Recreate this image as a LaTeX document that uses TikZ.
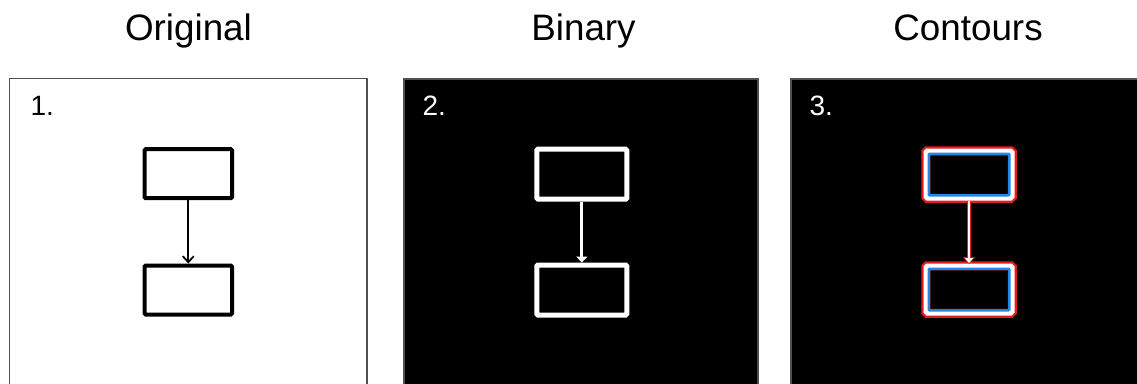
\documentclass[tikz,border=0pt]{standalone}
\usepackage{fontspec}
\setmainfont{Liberation Sans}
\usetikzlibrary{arrows.meta,calc}
\definecolor{frame}{RGB}{80,80,80}
\definecolor{cred}{RGB}{228,28,32}
\definecolor{cblue}{RGB}{30,136,229}
\tikzset{
  title/.style={anchor=base,font=\fontsize{36.8}{40}\selectfont},
  num/.style={anchor=base west,font=\fontsize{28}{32}\selectfont},
  panel/.style={draw=frame,line width=1.5pt},
  boxone/.style={draw=black,line width=4pt,rounded corners=1.2pt,minimum width=87.5pt,minimum height=49pt,inner sep=0pt},
  boxtwo/.style={draw=white,line width=5pt,rounded corners=1.2pt,minimum width=90pt,minimum height=50pt,inner sep=0pt},
  boxthree/.style={draw=white,line width=4.5pt,rounded corners=1.5pt,minimum width=86.5pt,minimum height=47.5pt,inner sep=0pt,
    preaction={draw=cred,line width=9pt}},
  inner contour/.style={draw=cblue,line width=2.5pt,rounded corners=0.8pt},
}
\begin{document}
\begin{tikzpicture}[x=1pt,y=-1pt]
\clip (0,0) rectangle (1137,383);
\useasboundingbox (0,0) rectangle (1137,383);
\fill[white] (0,0) rectangle (1137,383);

% titles
\node[title] (t1) at (188.5,40) {Original};
\node[title] (t2) at (583.5,40) {Binary};
\node[title] (t3) at (968,40) {Contours};

% panel frames
\draw[panel,fill=white] (9.5,78.5) rectangle (367,395);
\draw[panel,fill=black] (404,79) rectangle (758,395);
\draw[panel,fill=black] (791,79) rectangle (1150,395);

% panel numbers
\node[num] (n1) at (27,115) {1.};
\node[num,text=white] (n2) at (419,115) {2.};
\node[num,text=white] (n3) at (806,115) {3.};

% 1. original flowchart
\node[boxone] (a1) at (188.3,173.7) {};
\node[boxone] (b1) at (188.3,290) {};
\draw[line width=1.8pt,-{Straight Barb[length=6pt,width=11pt]}] (a1.south) -- (b1.north);

% 2. binary image
\node[boxtwo] (a2) at (581.8,174.2) {};
\node[boxtwo] (b2) at (581.8,290) {};
\draw[white,line width=3pt,-{Triangle[length=6pt,width=11pt]}] (a2.south) -- (b2.north);

% 3. detected contours
\node[boxthree] (a3) at (969,174.5) {};
\node[boxthree] (b3) at (969,289.5) {};
\draw[cred,line width=4.5pt,-{Triangle[length=7pt,width=12pt]}] (a3.south) -- ($(b3.north)+(0,0.5)$);
\draw[white,line width=1.8pt,-{Triangle[length=5pt,width=8pt]}] (a3.south) -- ($(b3.north)+(0,-0.5)$);
\draw[inner contour] ($(a3.center)+(-40.25,-20.75)$) rectangle ($(a3.center)+(40.25,20.75)$);
\draw[inner contour] ($(b3.center)+(-40.25,-20.75)$) rectangle ($(b3.center)+(40.25,20.75)$);
\end{tikzpicture}
\end{document}
